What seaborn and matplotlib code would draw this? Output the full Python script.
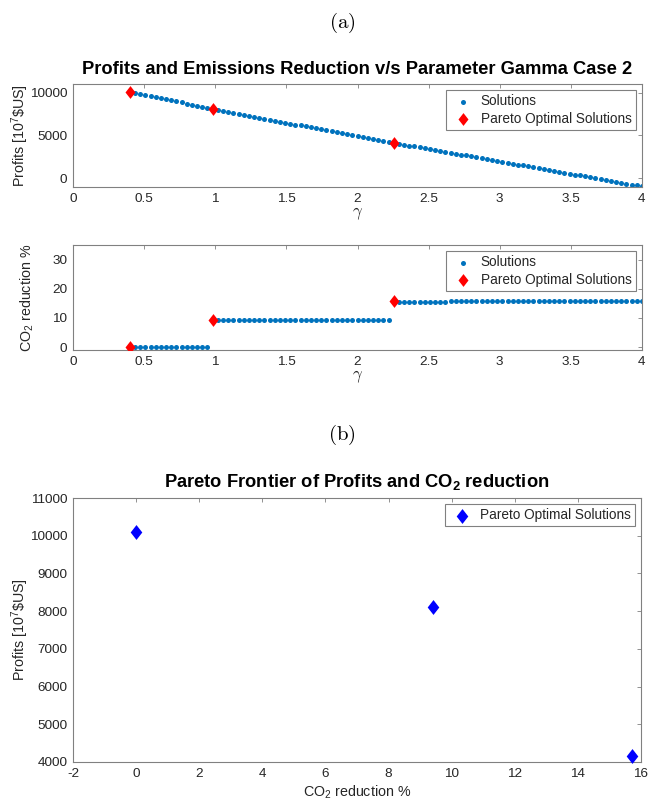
import matplotlib
matplotlib.use("Agg")
import matplotlib.pyplot as plt
import seaborn as sns
import pandas as pd

# ---------------- data ----------------
gamma = [0.400, 0.436, 0.473, 0.509, 0.545, 0.582, 0.618, 0.655, 0.691, 0.727,
         0.764, 0.800, 0.836, 0.873, 0.909, 0.945, 0.982, 1.018, 1.055, 1.091,
         1.127, 1.164, 1.200, 1.236, 1.273, 1.309, 1.345, 1.382, 1.418, 1.455,
         1.491, 1.527, 1.564, 1.600, 1.636, 1.673, 1.709, 1.745, 1.782, 1.818,
         1.855, 1.891, 1.927, 1.964, 2.000, 2.036, 2.073, 2.109, 2.145, 2.182,
         2.218, 2.255, 2.291, 2.327, 2.364, 2.400, 2.436, 2.473, 2.509, 2.545,
         2.582, 2.618, 2.655, 2.691, 2.727, 2.764, 2.800, 2.836, 2.873, 2.909,
         2.945, 2.982, 3.018, 3.055, 3.091, 3.127, 3.164, 3.200, 3.236, 3.273,
         3.309, 3.345, 3.382, 3.418, 3.455, 3.491, 3.527, 3.564, 3.600, 3.636,
         3.673, 3.709, 3.745, 3.782, 3.818, 3.855, 3.891, 3.927, 3.964, 4.000]

profits = [10100, 9975, 9849, 9724, 9598, 9473, 9347, 9222, 9096, 8971,
           8845, 8720, 8594, 8469, 8343, 8218, 8100, 7986, 7873, 7759,
           7645, 7532, 7418, 7304, 7190, 7077, 6963, 6849, 6736, 6622,
           6508, 6395, 6281, 6167, 6053, 5940, 5826, 5712, 5599, 5485,
           5371, 5258, 5144, 5030, 4916, 4803, 4689, 4575, 4462, 4348,
           4234, 4150, 4044, 3939, 3833, 3727, 3622, 3516, 3410, 3304,
           3199, 3093, 2987, 2882, 2776, 2670, 2565, 2459, 2353, 2247,
           2142, 2036, 1930, 1825, 1719, 1613, 1508, 1402, 1296, 1190,
           1085, 979, 873, 768, 662, 556, 451, 345, 239, 133,
           28, -78, -184, -289, -395, -501, -606, -712, -818, -924]

co2_reduction = [0.0, 0.0, 0.0, 0.0, 0.0, 0.0, 0.0, 0.0, 0.0, 0.0,
                 0.0, 0.0, 0.0, 0.0, 0.0, 0.0, 9.4, 9.4, 9.4, 9.4,
                 9.4, 9.4, 9.4, 9.4, 9.4, 9.4, 9.4, 9.4, 9.4, 9.4,
                 9.4, 9.4, 9.4, 9.4, 9.4, 9.4, 9.4, 9.4, 9.4, 9.4,
                 9.4, 9.4, 9.4, 9.4, 9.4, 9.4, 9.4, 9.4, 9.4, 9.4,
                 9.4, 15.6, 15.6, 15.6, 15.6, 15.6, 15.6, 15.6, 15.6, 15.6,
                 15.6, 15.6, 15.7, 15.7, 15.7, 15.7, 15.7, 15.7, 15.7, 15.7,
                 15.7, 15.7, 15.7, 15.7, 15.7, 15.7, 15.7, 15.7, 15.7, 15.7,
                 15.7, 15.7, 15.7, 15.7, 15.7, 15.7, 15.7, 15.7, 15.7, 15.7,
                 15.7, 15.7, 15.7, 15.7, 15.7, 15.7, 15.7, 15.7, 15.7, 15.7]

pareto_gamma = [0.400, 0.982, 2.255]
pareto_profits = [10100, 8100, 4150]
pareto_co2 = [0.0, 9.4, 15.7]

# ---------------- style ----------------
sns.set_theme(style="white")
plt.rcParams["font.family"] = ["Liberation Sans", "DejaVu Sans"]
plt.rcParams["mathtext.fontset"] = "custom"
plt.rcParams["mathtext.rm"] = "Liberation Sans"
plt.rcParams["mathtext.it"] = "Liberation Sans:italic"
plt.rcParams["mathtext.bf"] = "Liberation Sans:bold"
plt.rcParams["xtick.direction"] = "in"
plt.rcParams["ytick.direction"] = "in"
plt.rcParams["xtick.top"] = True
plt.rcParams["ytick.right"] = True

GRAY = "#262626"
EDGE = "#808080"
BLUE = "#0072BD"
DIAMOND = [(0, 1), (0.78, 0), (0, -1), (-0.78, 0), (0, 1)]

TICK_FS = 9.7
LABEL_FS = 10.3
TITLE_FS = 13.2
LEG_FS = 9.8

df = pd.DataFrame({"gamma": gamma, "profits": profits, "co2": co2_reduction})
dp = pd.DataFrame({"gamma": pareto_gamma, "profits": pareto_profits, "co2": pareto_co2})

fig = plt.figure(figsize=(6.48, 8.06), dpi=100)
W, H = 648, 806

def axes_px(l, t, r, b):
    return fig.add_axes([l / W, 1 - b / H, (r - l) / W, (b - t) / H])

ax1 = axes_px(73, 84, 642, 187)
ax2 = axes_px(73, 245, 642, 350)
ax3 = axes_px(73, 498, 641, 762)

def style(ax):
    for s in ax.spines.values():
        s.set_color(EDGE)
        s.set_linewidth(0.8)
    ax.tick_params(colors=GRAY, labelsize=TICK_FS, length=3, width=0.6,
                   which="both", top=True, right=True, direction="in", pad=4)
    ax.tick_params(axis="both", color=EDGE)

def legend(ax, **kw):
    leg = ax.legend(loc="upper right", fontsize=LEG_FS, frameon=True, fancybox=False,
                    edgecolor=EDGE, borderpad=0.3, handletextpad=0.3,
                    labelspacing=0.25, borderaxespad=0.45, **kw)
    leg.get_frame().set_linewidth(0.8)
    leg.get_frame().set_alpha(1)

xt = [0, 0.5, 1, 1.5, 2, 2.5, 3, 3.5, 4]
xtl = ["0", "0.5", "1", "1.5", "2", "2.5", "3", "3.5", "4"]

# ---- top panel ----
sns.scatterplot(data=df, x="gamma", y="profits", ax=ax1, color=BLUE, s=13,
                linewidth=0, marker="o", label="Solutions", zorder=2)
sns.scatterplot(data=dp, x="gamma", y="profits", ax=ax1, color="red", s=85,
                linewidth=0, marker=DIAMOND, label="Pareto Optimal Solutions", zorder=3)
ax1.set_xlim(0, 4)
ax1.set_ylim(-1000, 11000)
ax1.set_xticks(xt)
ax1.set_xticklabels(xtl)
ax1.set_yticks([0, 5000, 10000])
ax1.set_xlabel(r"$\gamma$", fontsize=12, color=GRAY, labelpad=1, math_fontfamily="cm")
ax1.set_ylabel(r"Profits [10$^7$\$US]", fontsize=LABEL_FS, color=GRAY, labelpad=-1)
ax1.set_title("Profits and Emissions Reduction v/s Parameter Gamma Case 2",
              fontsize=TITLE_FS, fontweight="bold", color="black", pad=7)
style(ax1)
legend(ax1)

# ---- middle panel ----
sns.scatterplot(data=df, x="gamma", y="co2", ax=ax2, color=BLUE, s=13,
                linewidth=0, marker="o", label="Solutions", zorder=2)
sns.scatterplot(data=dp, x="gamma", y="co2", ax=ax2, color="red", s=85,
                linewidth=0, marker=DIAMOND, label="Pareto Optimal Solutions", zorder=3)
ax2.set_xlim(0, 4)
ax2.set_ylim(-1, 35)
ax2.set_xticks(xt)
ax2.set_xticklabels(xtl)
ax2.set_yticks([0, 10, 20, 30])
ax2.set_xlabel(r"$\gamma$", fontsize=12, color=GRAY, labelpad=1, math_fontfamily="cm")
ax2.set_ylabel(r"CO$_2$ reduction %", fontsize=LABEL_FS, color=GRAY, labelpad=11.5)
style(ax2)
legend(ax2)

# ---- bottom panel ----
sns.scatterplot(data=dp, x="co2", y="profits", ax=ax3, color="blue", s=115,
                linewidth=0, marker=DIAMOND, label="Pareto Optimal Solutions",
                zorder=3, clip_on=False)
ax3.set_xlim(-2, 16)
ax3.set_ylim(4000, 11000)
ax3.set_xticks(list(range(-2, 17, 2)))
ax3.set_xticklabels([str(v) for v in range(-2, 17, 2)])
ax3.set_yticks(list(range(4000, 11001, 1000)))
ax3.set_yticklabels([str(v) for v in range(4000, 11001, 1000)])
ax3.set_xlabel(r"CO$_2$ reduction %", fontsize=LABEL_FS, color=GRAY, labelpad=3)
ax3.set_ylabel(r"Profits [10$^7$\$US]", fontsize=LABEL_FS, color=GRAY, labelpad=-1)
ax3.set_title(r"Pareto Frontier of Profits and CO$_\mathbf{2}$ reduction",
              fontsize=TITLE_FS, fontweight="bold", color="black", pad=8)
style(ax3)
legend(ax3)

# ---- sub-figure labels ----
fig.text(342 / W, 1 - 23 / H, r"$\mathrm{(a)}$", ha="center", va="center",
         fontsize=15, color="black", math_fontfamily="cm")
fig.text(342 / W, 1 - 435 / H, r"$\mathrm{(b)}$", ha="center", va="center",
         fontsize=15, color="black", math_fontfamily="cm")

fig.savefig("out.png", dpi=100)
